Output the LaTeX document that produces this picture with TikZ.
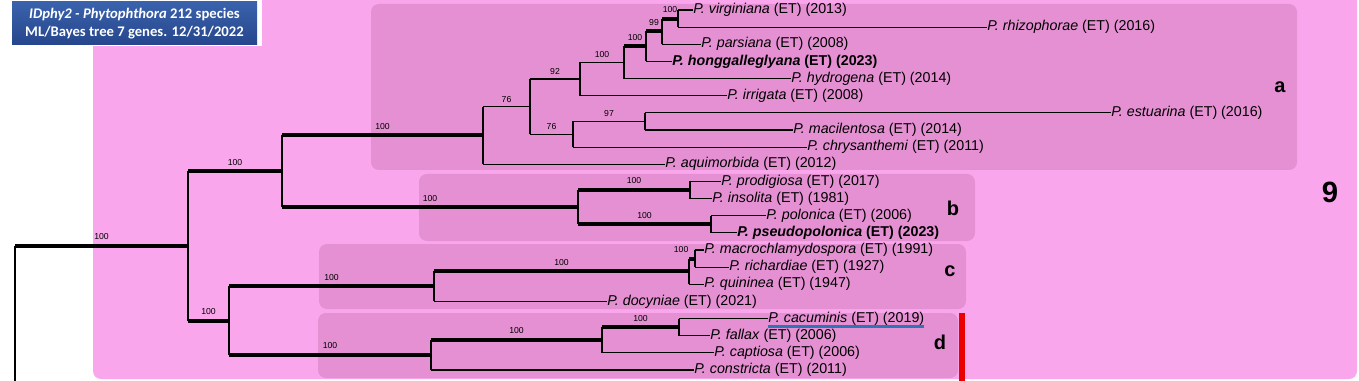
\documentclass[tikz,border=0pt]{standalone}
\usepackage{fontspec}
\setmainfont{Liberation Sans}
\newfontfamily\titlefont{Carlito}
\definecolor{bigpink}{RGB}{250,166,236}
\definecolor{boxpink}{RGB}{229,144,210}
\definecolor{titletop}{RGB}{58,98,172}
\definecolor{titlebot}{RGB}{38,70,140}
\definecolor{ulblue}{RGB}{46,117,182}
\definecolor{barred}{RGB}{235,0,0}
\begin{document}
\begin{tikzpicture}[x=0.75pt,y=-0.75pt,
  br/.style={line width=0.9pt},
  tk/.style={line width=3pt},
  vt/.style={line width=1.1pt},
  leaf/.style={anchor=west,inner sep=0pt,font=\fontsize{10.7}{12}\selectfont},
  boldleaf/.style={leaf,font=\fontsize{10.7}{12}\bfseries\selectfont},
  bs/.style={anchor=south,inner sep=0pt,yshift=3pt,font=\fontsize{6.5}{7}\selectfont},
  clade/.style={fill=boxpink,rounded corners=6pt},
  lbl/.style={inner sep=0pt,font=\fontsize{15}{18}\bfseries\selectfont}]
\useasboundingbox (0,0) rectangle (1359,381);
\clip (0,0) rectangle (1359,381);
% backgrounds
\fill[bigpink, rounded corners=6pt] (93,-10) rectangle (1357,379);
\fill[white] (0,0) rectangle (262,46);
\fill[clade] (371,4) rectangle (1297,170);
\fill[clade] (419,174) rectangle (975,241);
\fill[clade] (319,244) rectangle (966,309);
\fill[clade] (318,313) rectangle (958,378);
% title
\node[top color=titletop, bottom color=titlebot, minimum width=183.75pt, minimum height=32.25pt,
  inner sep=0pt, align=center, text=white,
  font=\titlefont\bfseries\fontsize{11}{13.5}\selectfont] (title) at (134.5,23.5)
  {\textit{IDphy2 - Phytophthora} 212 species\\ML/Bayes tree 7 genes. 12/31/2022};
% internal nodes
\coordinate (root) at (15,246);
\coordinate (outg) at (15,395);
\coordinate (A) at (188,246);
\coordinate (B) at (282,171.3);
\coordinate (a) at (483,135.5);
\coordinate (n6) at (530,106.7);
\coordinate (n5) at (580,79.1);
\coordinate (n4) at (624,62.5);
\coordinate (n3) at (646,46.43);
\coordinate (n2) at (662,31.43);
\coordinate (n1) at (678,18.57);
\coordinate (n7) at (573,134.29);
\coordinate (n8) at (645,121.43);
\coordinate (b) at (578,207.14);
\coordinate (bp) at (690,190);
\coordinate (bq) at (711,224.29);
\coordinate (cd) at (229,320.71);
\coordinate (c) at (434,286.43);
\coordinate (cq) at (689,271.43);
\coordinate (cm) at (695,258.57);
\coordinate (d) at (431,355);
\coordinate (dd) at (602,340);
\coordinate (dc) at (679,327.14);
% leaves
\node[leaf] (virg) at (693,10) {\textit{P. virginiana} (ET) (2013)};
\node[leaf] (rhiz) at (987,27.14) {\textit{P. rhizophorae} (ET) (2016)};
\node[leaf] (pars) at (701,44.29) {\textit{P. parsiana} (ET) (2008)};
\node[boldleaf] (hong) at (672,61.43) {\textit{P. honggalleglyana} (ET) (2023)};
\node[leaf] (hydr) at (791,78.57) {\textit{P. hydrogena} (ET) (2014)};
\node[leaf] (irri) at (727,95.71) {\textit{P. irrigata} (ET) (2008)};
\node[leaf] (estu) at (1111,112.86) {\textit{P. estuarina} (ET) (2016)};
\node[leaf] (maci) at (793,130) {\textit{P. macilentosa} (ET) (2014)};
\node[leaf] (chry) at (807,147.14) {\textit{P. chrysanthemi} (ET) (2011)};
\node[leaf] (aqui) at (665,164.29) {\textit{P. aquimorbida} (ET) (2012)};
\node[leaf] (prod) at (721,181.43) {\textit{P. prodigiosa} (ET) (2017)};
\node[leaf] (inso) at (712,198.57) {\textit{P. insolita} (ET) (1981)};
\node[leaf] (polo) at (766,215.71) {\textit{P. polonica} (ET) (2006)};
\node[boldleaf] (pseu) at (737,232.86) {\textit{P. pseudopolonica} (ET) (2023)};
\node[leaf] (macr) at (704,250) {\textit{P. macrochlamydospora} (ET) (1991)};
\node[leaf] (rich) at (729,267.14) {\textit{P. richardiae} (ET) (1927)};
\node[leaf] (quin) at (704,284.29) {\textit{P. quininea} (ET) (1947)};
\node[leaf] (docy) at (607,301.43) {\textit{P. docyniae} (ET) (2021)};
\node[leaf] (cacu) at (768,318.57) {\textit{P. cacuminis} (ET) (2019)};
\node[leaf] (fall) at (710,335.71) {\textit{P. fallax} (ET) (2006)};
\node[leaf] (capt) at (714,352.86) {\textit{P. captiosa} (ET) (2006)};
\node[leaf] (cons) at (694,370) {\textit{P. constricta} (ET) (2011)};
% verticals
\draw[vt] (root) -- (outg);
\draw[vt] (A |- B) -- (A |- cd);
\draw[vt] (B |- a) -- (B |- b);
\draw[vt] (a |- n6) -- (a |- aqui.west);
\draw[vt] (n6 |- n5) -- (n6 |- n7);
\draw[vt] (n5 |- n4) -- (n5 |- irri.west);
\draw[vt] (n4 |- n3) -- (n4 |- hydr.west);
\draw[vt] (n3 |- n2) -- (n3 |- hong.west);
\draw[vt] (n2 |- n1) -- (n2 |- pars.west);
\draw[vt] (n1 |- virg.west) -- (n1 |- rhiz.west);
\draw[vt] (n7 |- n8) -- (n7 |- chry.west);
\draw[vt] (n8 |- estu.west) -- (n8 |- maci.west);
\draw[vt] (b |- bp) -- (b |- bq);
\draw[vt] (bp |- prod.west) -- (bp |- inso.west);
\draw[vt] (bq |- polo.west) -- (bq |- pseu.west);
\draw[vt] (cd |- c) -- (cd |- d);
\draw[vt] (c |- cq) -- (c |- docy.west);
\draw[vt] (cq |- cm) -- (cq |- quin.west);
\draw[vt] (cm |- macr.west) -- (cm |- rich.west);
\draw[vt] (d |- dd) -- (d |- cons.west);
\draw[vt] (dd |- dc) -- (dd |- capt.west);
\draw[vt] (dc |- cacu.west) -- (dc |- fall.west);
% internal branches
\draw[tk] (root) -- node[bs]{100} (A);
\draw[tk] (A |- B) -- node[bs]{100} (B);
\draw[tk] (A |- cd) -- node[bs]{100} (cd);
\draw[tk] (B |- a) -- node[bs]{100} (a);
\draw[tk] (B |- b) -- node[bs]{100} (b);
\draw[br] (a |- n6) -- node[bs]{76} (n6);
\draw[br] (n6 |- n5) -- node[bs]{92} (n5);
\draw[br] (n5 |- n4) -- node[bs]{100} (n4);
\draw[tk] (n4 |- n3) -- node[bs]{100} (n3);
\draw[tk] (n3 |- n2) -- node[bs]{99} (n2);
\draw[tk] (n2 |- n1) -- node[bs]{100} (n1);
\draw[br] (n6 |- n7) -- node[bs]{76} (n7);
\draw[br] (n7 |- n8) -- node[bs]{97} (n8);
\draw[tk] (b |- bp) -- node[bs]{100} (bp);
\draw[tk] (b |- bq) -- node[bs]{100} (bq);
\draw[tk] (cd |- c) -- node[bs]{100} (c);
\draw[tk] (c |- cq) -- node[bs]{100} (cq);
\draw[tk] (cq |- cm) -- node[bs,pos=0,anchor=south east,xshift=1pt,yshift=0pt]{100} (cm);
\draw[tk] (cd |- d) -- node[bs]{100} (d);
\draw[tk] (d |- dd) -- node[bs]{100} (dd);
\draw[tk] (dd |- dc) -- node[bs]{100} (dc);
% leaf branches
\draw[br] (n1 |- virg.west) -- (virg.west);
\draw[br] (n1 |- rhiz.west) -- (rhiz.west);
\draw[br] (n2 |- pars.west) -- (pars.west);
\draw[br] (n3 |- hong.west) -- (hong.west);
\draw[br] (n4 |- hydr.west) -- (hydr.west);
\draw[br] (n5 |- irri.west) -- (irri.west);
\draw[br] (n8 |- estu.west) -- (estu.west);
\draw[br] (n8 |- maci.west) -- (maci.west);
\draw[br] (n7 |- chry.west) -- (chry.west);
\draw[br] (a |- aqui.west) -- (aqui.west);
\draw[br] (bp |- prod.west) -- (prod.west);
\draw[br] (bp |- inso.west) -- (inso.west);
\draw[br] (bq |- polo.west) -- (polo.west);
\draw[br] (bq |- pseu.west) -- (pseu.west);
\draw[br] (cm |- macr.west) -- (macr.west);
\draw[br] (cm |- rich.west) -- (rich.west);
\draw[br] (cq |- quin.west) -- (quin.west);
\draw[br] (c |- docy.west) -- (docy.west);
\draw[br] (dc |- cacu.west) -- (cacu.west);
\draw[br] (dc |- fall.west) -- (fall.west);
\draw[br] (dd |- capt.west) -- (capt.west);
\draw[br] (d |- cons.west) -- (cons.west);
% underline and bar
\draw[ulblue, line width=2.2pt] ([yshift=-1pt]cacu.south west) -- ([yshift=-1pt]cacu.south east);
\fill[barred] (959,313) rectangle (965,385);
% clade labels
\node[lbl] (la) at (1280,87) {a};
\node[lbl] (lb) at (953,208) {b};
\node[lbl] (lc) at (950,271) {c};
\node[lbl] (ld) at (940,342) {d};
\node[inner sep=0pt,font=\fontsize{22}{24}\bfseries\selectfont] (l9) at (1330,192) {9};
\end{tikzpicture}
\end{document}
